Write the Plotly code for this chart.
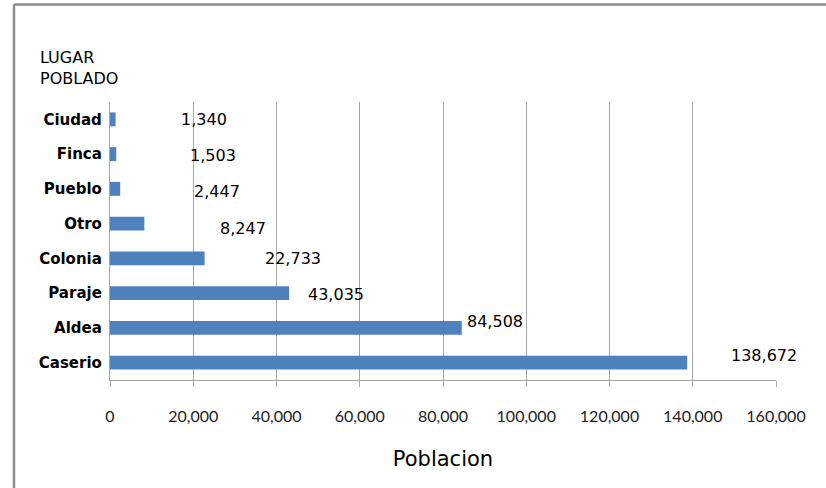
import plotly.graph_objects as go

categories = ["Caserio", "Aldea", "Paraje", "Colonia", "Otro", "Pueblo", "Finca", "Ciudad"]
poblacion = [138672, 84508, 43035, 22733, 8247, 2447, 1503, 1340]
tick_vals = [0, 20000, 40000, 60000, 80000, 100000, 120000, 140000, 160000]
tick_text = ["0", "20,000", "40,000", "60,000", "80,000", "100,000", "120,000", "140,000", "160,000"]

# label placement (pixel shifts from bar end), same order as categories
label_xshift = [77, 33, 47, 88, 99, 97, 97, 88]
label_yshift = [7, 6, -1, 0, -5, -3, -1, 0]

W, H = 826, 488
L, R, T, B = 110, 50, 102, 108
pw, ph = W - L - R, H - T - B

fig = go.Figure(go.Bar(
    y=categories, x=poblacion, orientation="h",
    marker=dict(color="#4F81BD", line=dict(width=0)),
    hoverinfo="skip",
))

for c, v, dx, dy in zip(categories, poblacion, label_xshift, label_yshift):
    fig.add_annotation(x=v, y=c, xref="x", yref="y", text=f"{v:,}", showarrow=False,
                       xanchor="center", yanchor="middle", xshift=dx, yshift=dy,
                       font=dict(family="DejaVu Sans", size=16, color="#000000"))

fig.add_annotation(x=(38 - L) / pw, y=1 + (T - 46) / ph, xref="paper", yref="paper",
                   text="LUGAR<br>POBLADO", showarrow=False, xanchor="left", yanchor="top",
                   align="left", font=dict(family="DejaVu Sans", size=16, color="#000000"))

# outer frame (left and top edges)
fig.add_shape(type="line", xref="paper", yref="paper",
              x0=(14 - L) / pw, x1=(14 - L) / pw, y0=1 + (T - 4.5) / ph, y1=-(B) / ph,
              line=dict(color="#8C8C8C", width=2.5))
fig.add_shape(type="line", xref="paper", yref="paper",
              x0=(14 - L) / pw, x1=(W - L) / pw, y0=1 + (T - 4.5) / ph, y1=1 + (T - 4.5) / ph,
              line=dict(color="#8C8C8C", width=2.5))

fig.update_layout(
    width=W, height=H,
    margin=dict(l=L, r=R, t=T, b=B, autoexpand=False),
    paper_bgcolor="white", plot_bgcolor="white",
    showlegend=False, bargap=0.6,
    xaxis=dict(range=[0, 160000], tickvals=tick_vals, ticktext=tick_text,
               showgrid=True, gridcolor="#A6A6A6", gridwidth=1.3,
               showline=True, linecolor="#A6A6A6", linewidth=1.3,
               ticks="outside", ticklen=6, tickcolor="#A6A6A6", tickwidth=1.3,
               ticklabelstandoff=16, zeroline=False,
               tickfont=dict(family="Lato", size=16, color="#222222"),
               title=dict(text="Poblacion", standoff=26,
                          font=dict(family="DejaVu Sans", size=21, color="#000000"))),
    yaxis=dict(showgrid=False, showline=True, linecolor="#A6A6A6", linewidth=1.3,
               ticks="", ticklabelstandoff=4,
               tickfont=dict(family="DejaVu Sans", size=15, color="#000000", weight="bold")),
)

fig.write_html("out.html", config={"displayModeBar": False},
               post_script="document.body.style.margin='0';document.body.style.padding='0';")
